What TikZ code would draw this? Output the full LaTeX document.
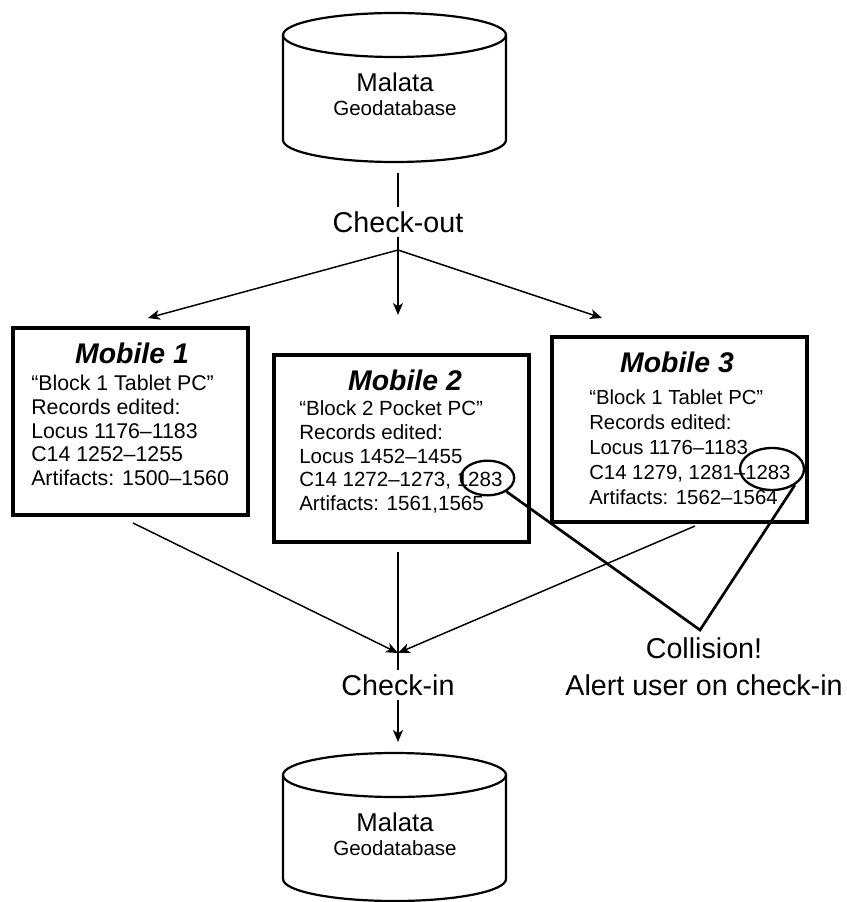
\documentclass[tikz,border=0pt]{standalone}
\usepackage{fontspec}
\setmainfont{Liberation Sans}
\usetikzlibrary{arrows.meta,shapes.geometric}
\begin{document}
\begin{tikzpicture}[x=0.75pt,y=-0.75pt,
  cyl/.style={line width=1.65pt},
  mbox/.style={draw,line width=2.3pt,inner sep=0pt},
  conn/.style={line width=1.1pt},
  arr/.style={conn,-{Stealth[length=9pt,width=7.5pt,inset=2.5pt]}},
  big/.style={font=\fontsize{21.5}{27.75}\selectfont,inner sep=3pt},
  mtitle/.style={font=\fontsize{21.3}{25}\selectfont\bfseries\itshape,inner sep=0pt},
  body/.style={align=left,anchor=north west,inner sep=0pt},
  hit/.style={draw,ellipse,line width=1.75pt,inner sep=0pt},
  coll/.style={line width=2pt,line join=miter},
  dbname/.style={font=\fontsize{19.3}{23}\selectfont,inner sep=0pt},
  dbsub/.style={font=\fontsize{15.4}{18}\selectfont,inner sep=0pt}]
\useasboundingbox (0,0) rectangle (846,902);

% top database
\draw[cyl] (283,35) -- (283,140) arc[start angle=180,end angle=0,x radius=111.5,y radius=22] -- (506,35);
\draw[cyl] (394.5,35) ellipse [x radius=111.5,y radius=22];
\node[dbname] (db1n) at (395,82) {Malata};
\node[dbsub] (db1s) at (395,108) {Geodatabase};

% bottom database
\draw[cyl] (283,775) -- (283,879) arc[start angle=180,end angle=0,x radius=111.5,y radius=22] -- (506,775);
\draw[cyl] (394.5,775) ellipse [x radius=111.5,y radius=22];
\node[dbname] (db2n) at (395,822) {Malata};
\node[dbsub] (db2s) at (395,848) {Geodatabase};

% labels
\node[big] (co) at (398,222) {Check-out};
\node[big] (ci) at (398,685) {Check-in};
\node[big,align=center] (col) at (704,666.5) {Collision!\\Alert user on check-in};

% mobile boxes
\node[mbox,minimum width=176.25pt,minimum height=140.25pt] (m1) at (130.5,421.5) {};
\node[mbox,minimum width=191.25pt,minimum height=140.25pt] (m2) at (401.5,448.5) {};
\node[mbox,minimum width=191.25pt,minimum height=138.75pt] (m3) at (679.5,429.5) {};

\node[mtitle] (m1h) at (132,353) {Mobile 1};
\node[mtitle] (m2h) at (405,380) {Mobile 2};
\node[mtitle] (m3h) at (677,362) {Mobile 3};

\node[body,font=\fontsize{16}{17.8}\selectfont] (m1t) at (31,375)
  {“Block 1 Tablet PC”\\Records edited:\\Locus 1176–1183\\C14 1252–1255\\Artifacts: 1500–1560};
\node[body,font=\fontsize{15.4}{17.8}\selectfont] (m2t) at (299,400.5)
  {“Block 2 Pocket PC”\\Records edited:\\Locus 1452–1455\\C14 1272–1273, 1283\\Artifacts: 1561,1565};
\node[body,font=\fontsize{15.25}{18.75}\selectfont] (m3t) at (589,389.5)
  {“Block 1 Tablet PC”\\Records edited:\\Locus 1176–1183\\C14 1279, 1281–1283\\Artifacts: 1562–1564};

% collision ellipses
\node[hit,minimum width=40pt,minimum height=26pt] (e2) at (487.5,478) {};
\node[hit,minimum width=48pt,minimum height=31.5pt] (e3) at (772,469) {};

% coordinates for connector ends
\coordinate (db1o) at (398,173);
\coordinate (fork) at (398,250);
\coordinate (t1) at (148,318);
\coordinate (t2) at (398,315);
\coordinate (t3) at (602,318);
\coordinate (m1o) at (133,523);
\coordinate (m2o) at (398,552);
\coordinate (m3o) at (695,526);
\coordinate (join) at (398,653);
\coordinate (db2i) at (398,742);
\coordinate (cv) at (700,630);

% connectors
\draw[conn] (db1o) -- (co);
\draw[arr] (co) -- (t2);
\draw[arr] (fork) -- (t1);
\draw[arr] (fork) -- (t3);
\draw[arr] (m1o) -- (join);
\draw[arr] (m3o) -- (join);
\draw[conn] (m2o) -- (ci);
\draw[arr] (ci) -- (db2i);
\draw[coll] (e2) -- (cv) -- (e3.-35);
\end{tikzpicture}
\end{document}
